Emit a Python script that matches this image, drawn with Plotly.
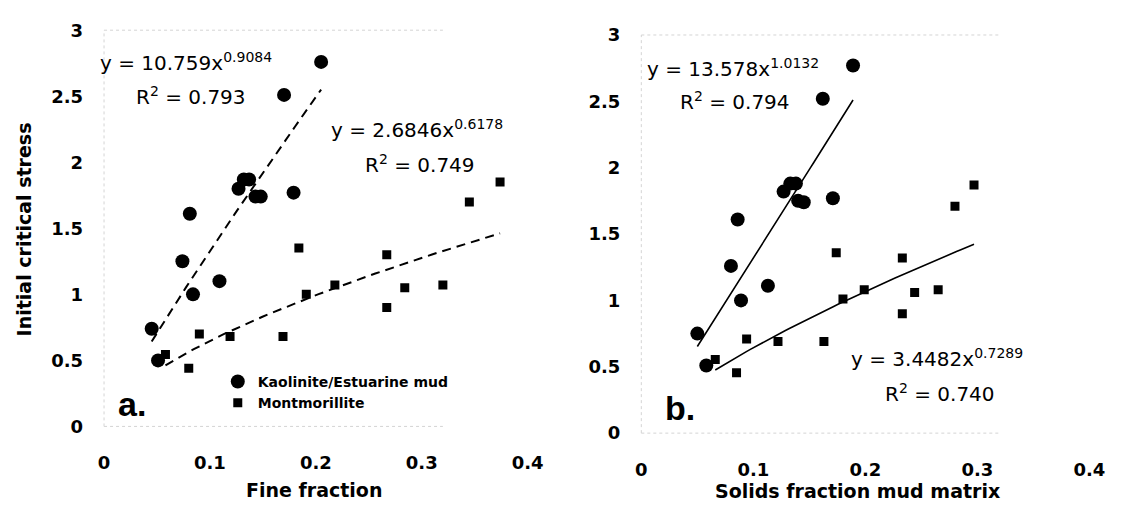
import numpy as np
import plotly.graph_objects as go

# ---- data: panel a (fine fraction) ----
kao_a_x = [0.205, 0.170, 0.081, 0.127, 0.132, 0.137, 0.143, 0.148, 0.179, 0.074, 0.109, 0.084, 0.045, 0.051]
kao_a_y = [2.76, 2.51, 1.61, 1.80, 1.87, 1.87, 1.74, 1.74, 1.77, 1.25, 1.10, 1.00, 0.74, 0.50]
mon_a_x = [0.058, 0.080, 0.090, 0.119, 0.169, 0.191, 0.218, 0.267, 0.267, 0.284, 0.184, 0.320, 0.345, 0.374]
mon_a_y = [0.545, 0.44, 0.70, 0.68, 0.68, 1.00, 1.07, 0.90, 1.30, 1.05, 1.35, 1.07, 1.70, 1.85]

# ---- data: panel b (solids fraction mud matrix) ----
kao_b_x = [0.189, 0.162, 0.086, 0.127, 0.133, 0.138, 0.140, 0.145, 0.171, 0.080, 0.113, 0.089, 0.050, 0.058]
kao_b_y = [2.77, 2.52, 1.61, 1.82, 1.88, 1.88, 1.75, 1.74, 1.77, 1.26, 1.11, 1.00, 0.75, 0.51]
mon_b_x = [0.066, 0.085, 0.094, 0.122, 0.163, 0.180, 0.199, 0.233, 0.233, 0.244, 0.174, 0.265, 0.280, 0.297]
mon_b_y = [0.555, 0.455, 0.71, 0.69, 0.69, 1.01, 1.08, 0.90, 1.32, 1.06, 1.36, 1.08, 1.71, 1.87]

# power-law fits y = a * x^b, with R^2
fit_kao_a = (10.759, 0.9084, 0.793)
fit_mon_a = (2.6846, 0.6178, 0.749)
fit_kao_b = (13.578, 1.0132, 0.794)
fit_mon_b = (3.4482, 0.7289, 0.740)

x_ticks = [0, 0.1, 0.2, 0.3, 0.4]
x_tick_text = ["0", "0.1", "0.2", "0.3", "0.4"]
y_ticks = [0, 0.5, 1, 1.5, 2, 2.5, 3]
y_tick_text = ["0", "0.5", "1", "1.5", "2", "2.5", "3"]

W, H = 1125, 517
TICK_FONT = dict(family="DejaVu Sans", size=18, color="black", weight="bold")
EQ_FONT = dict(family="DejaVu Sans", size=20, color="black")


def power_curve(xs, fit):
    a, b, _ = fit
    xx = np.linspace(min(xs), max(xs), 60)
    return xx, a * xx ** b


fig = go.Figure()

panels = [
    ("x", "y", kao_a_x, kao_a_y, mon_a_x, mon_a_y, fit_kao_a, fit_mon_a, "dash", True),
    ("x2", "y2", kao_b_x, kao_b_y, mon_b_x, mon_b_y, fit_kao_b, fit_mon_b, "solid", False),
]

for xa, ya, kx, ky, mx, my, fk, fm, dash, show in panels:
    for xs, fit in ((kx, fk), (mx, fm)):
        cx, cy = power_curve(xs, fit)
        fig.add_trace(go.Scatter(
            x=cx, y=cy, mode="lines", xaxis=xa, yaxis=ya, showlegend=False,
            line=dict(color="black", width=2 if dash == "dash" else 1.6,
                      dash="9px,6px" if dash == "dash" else "solid"),
            hoverinfo="skip"))
    fig.add_trace(go.Scatter(
        x=kx, y=ky, mode="markers", xaxis=xa, yaxis=ya,
        name="Kaolinite/Estuarine mud", showlegend=show,
        marker=dict(symbol="circle", size=14, color="black")))
    fig.add_trace(go.Scatter(
        x=mx, y=my, mode="markers", xaxis=xa, yaxis=ya,
        name="Montmorillite", showlegend=show,
        marker=dict(symbol="square", size=9, color="black")))

axis_common = dict(showgrid=False, zeroline=False, showline=False, ticks="",
                   tickfont=TICK_FONT, fixedrange=True)

fig.update_layout(
    width=W, height=H,
    margin=dict(l=0, r=0, t=0, b=0),
    paper_bgcolor="white", plot_bgcolor="white",
    font=dict(family="DejaVu Sans", color="black"),
    xaxis=dict(domain=[100 / W, 532 / W], range=[0, 0.4], anchor="y",
               tickvals=x_ticks, ticktext=x_tick_text, ticklabelstandoff=24, **axis_common),
    yaxis=dict(domain=[(H - 433) / H, (H - 20) / H], range=[0, 3], anchor="x",
               tickvals=y_ticks, ticktext=y_tick_text, ticklabelstandoff=20, **axis_common),
    xaxis2=dict(domain=[648 / W, 1105 / W], range=[0, 0.4], anchor="y2",
                tickvals=x_ticks, ticktext=x_tick_text, ticklabelstandoff=24, **axis_common),
    yaxis2=dict(domain=[(H - 440) / H, (H - 25) / H], range=[0, 3], anchor="x2",
                tickvals=y_ticks, ticktext=y_tick_text, ticklabelstandoff=20, **axis_common),
    legend=dict(x=216 / W, y=(H - 370) / H, xanchor="left", yanchor="top",
                bgcolor="rgba(0,0,0,0)", tracegroupgap=0, itemwidth=30,
                font=dict(family="DejaVu Sans", size=14, color="black", weight="bold")),
    showlegend=True,
)

# faint dotted plot-area frame
frame = dict(type="line", line=dict(color="#d4d4d4", width=1, dash="dot"), layer="below")
for xr, yr in (("x domain", "y domain"), ("x2 domain", "y2 domain")):
    fig.add_shape(x0=0, x1=0, y0=0, y1=1, xref=xr, yref=yr, **frame)
    fig.add_shape(x0=0, x1=0.8, y0=1, y1=1, xref=xr, yref=yr, **frame)
    fig.add_shape(x0=0, x1=0.8, y0=0, y1=0, xref=xr, yref=yr, **frame)


def eq_text(fit):
    a, b, _ = fit
    return f"y = {a:g}x<sup>{b:.4f}</sup>"


def r2_text(fit):
    return f"R<sup>2</sup> = {fit[2]:.3f}"


# (axis refs, x, y, text, pixel shift)
labels = [
    ("x", "y", 0.0, 2.76, eq_text(fit_kao_a), -6),
    ("x", "y", 0.028, 2.50, r2_text(fit_kao_a), 0),
    ("x", "y", 0.212, 2.25, eq_text(fit_mon_a), 0),
    ("x", "y", 0.245, 1.99, r2_text(fit_mon_a), 0),
    ("x2", "y2", 0.003, 2.75, eq_text(fit_kao_b), 0),
    ("x2", "y2", 0.033, 2.50, r2_text(fit_kao_b), 0),
    ("x2", "y2", 0.185, 0.565, eq_text(fit_mon_b), 0),
    ("x2", "y2", 0.216, 0.30, r2_text(fit_mon_b), 0),
]
for xr, yr, x, y, t, dx in labels:
    fig.add_annotation(x=x, y=y, xref=xr, yref=yr, text=t, showarrow=False,
                       xanchor="left", yanchor="middle", xshift=dx, font=EQ_FONT)

# panel letters
for xr, yr, x, y, t in (("x", "y", 0.011, 0.17, "a."), ("x2", "y2", 0.019, 0.19, "b.")):
    fig.add_annotation(x=x, y=y, xref=xr, yref=yr, text=t, showarrow=False,
                       xanchor="left", yanchor="middle",
                       font=dict(family="Liberation Sans", size=34, color="black", weight="bold"))

# axis titles
title_font = dict(family="DejaVu Sans", size=19, color="black", weight="bold")
fig.add_annotation(x=18 / W, y=(H - 228) / H, xref="paper", yref="paper",
                   text="Initial critical stress", textangle=-90, showarrow=False,
                   xanchor="center", yanchor="middle", font=title_font)
fig.add_annotation(x=314 / W, y=(H - 499) / H, xref="paper", yref="paper",
                   text="Fine fraction", showarrow=False,
                   xanchor="center", yanchor="middle", font=title_font)
fig.add_annotation(x=868 / W, y=(H - 500) / H, xref="paper", yref="paper",
                   text="Solids fraction mud matrix", showarrow=False,
                   xanchor="center", yanchor="middle", font=title_font)

fig.write_html("out.html")
